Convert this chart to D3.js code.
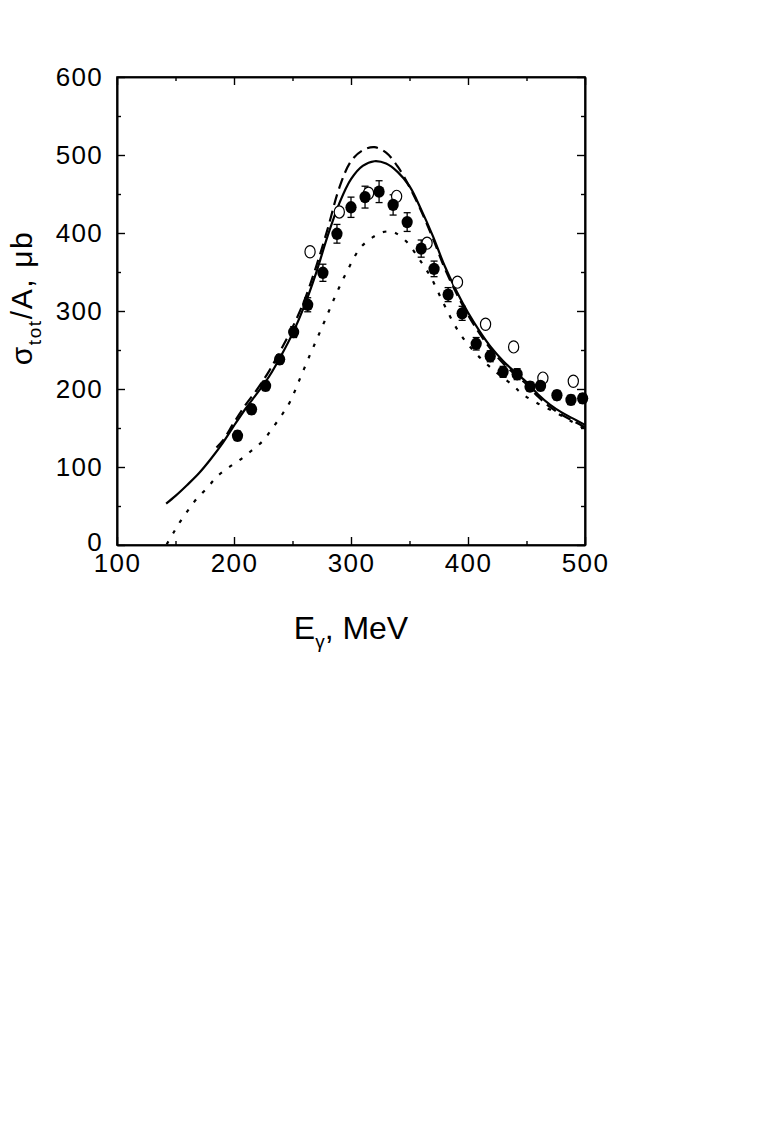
<!DOCTYPE html>
<html>
<head>
<meta charset="utf-8">
<script src="https://cdn.jsdelivr.net/npm/d3@7"></script>
<style>
    body { margin: 0; background: #fff; }
    svg { display: block; }
    text { font-family: "Liberation Sans", Arial, Helvetica, sans-serif; fill: #000; }
    .domain { stroke-width: 1.6; }
    .tick line { stroke-width: 1.4; }
</style>
</head>
<body>
<script>
// measured points, filled circles: [E, sigma, error]
var filledPts = [
    [203, 140, 6], [215, 174, 6], [227, 204, 6], [239, 238, 6], [251, 273, 7],
    [263, 308, 9], [276, 349, 11], [288, 399, 12], [300, 433, 13], [312, 446, 14],
    [324, 453, 14], [336, 436, 13], [348, 414, 12], [360, 380, 11], [371, 354, 10],
    [383, 321, 9], [395, 297, 9], [407, 258, 8], [419, 242, 7], [430, 222, 7],
    [442, 219, 7], [453, 203, 6], [462, 204, 6], [476, 192, 6], [488, 186, 6],
    [498, 188, 6]
];

// open circles: [E, sigma]
var openPts = [
    [265, 376], [290, 427], [315, 451], [339, 447], [365, 387],
    [391, 337], [415, 283], [439, 254], [464, 214], [490, 210]
];

// calculations
var solidCurve = [
    [142, 53], [150, 63], [160, 77], [170, 92], [180, 110], [190, 130], [200, 153],
    [210, 175], [220, 195], [230, 216], [240, 242], [250, 271], [260, 306], [270, 348],
    [280, 396], [290, 438], [300, 469], [310, 486], [320, 492], [330, 489], [340, 478],
    [350, 460], [360, 430], [370, 396], [380, 358], [390, 326], [400, 298], [410, 274],
    [420, 253], [430, 236], [440, 222], [450, 209], [460, 193], [470, 180], [480, 170],
    [490, 162], [500, 154]
];

var dashedCurve = [
    [185, 125], [190, 133], [200, 157], [210, 180], [220, 200], [230, 223], [240, 250],
    [250, 279], [260, 313], [270, 356], [280, 405], [290, 458], [300, 492], [310, 506],
    [320, 510], [330, 503], [340, 485], [350, 459], [360, 428], [370, 393], [380, 355],
    [390, 323], [400, 295], [410, 271], [420, 250], [430, 233], [440, 219], [450, 206],
    [460, 190], [470, 177], [480, 167], [490, 159], [500, 151]
];

var dottedCurve = [
    [142.5, 1], [148, 15], [154, 30], [161, 45], [168, 59], [177, 73], [185, 87],
    [195, 99], [205, 109], [215, 121], [225, 134], [233, 150], [241, 167], [248, 184],
    [256, 212], [265, 244], [272, 268], [280, 296], [288, 324], [297, 352], [308, 381],
    [319, 395], [327, 401], [333, 402], [338, 400], [348, 388], [359, 365], [368, 344],
    [379, 310], [391, 276], [404, 250], [419, 228], [438, 205], [447, 193], [459, 182],
    [476, 169], [489, 158], [500, 149]
];

var xMajor = [100, 200, 300, 400, 500];
var xMinor = [150, 250, 350, 450];
var yMajor = [0, 100, 200, 300, 400, 500, 600];
var yMinor = [50, 150, 250, 350, 450, 550];

var margin = {left: 117, top: 77},
    width = 468,
    height = 468;

var svg = d3.select("body").append("svg")
    .attr("width", 781)
    .attr("height", 1124);

var g = svg.append("g")
    .attr("transform", "translate(" + margin.left + "," + margin.top + ")");

var x = d3.scaleLinear().domain([100, 500]).range([0, width]);
var y = d3.scaleLinear().domain([0, 600]).range([height, 0]);

function drawAxis(axis, tx, ty) {
    var a = g.append("g")
        .attr("transform", "translate(" + tx + "," + ty + ")")
        .call(axis);
    a.selectAll("text")
        .style("font-size", "26px")
        .style("letter-spacing", "1.3px");
    return a;
}

// major ticks with labels, ticks pointing inward
drawAxis(d3.axisBottom(x).tickValues(xMajor).tickSizeInner(-8).tickSizeOuter(0).tickPadding(9), 0, height);
var yAx = drawAxis(d3.axisLeft(y).tickValues(yMajor).tickSizeInner(-8).tickSizeOuter(0).tickPadding(14), 0, 0);
// keep the "0" clear of the "100" below it
yAx.selectAll("text").filter(function(d){ return d === 0; }).attr("dy", "0.2em");
// mirrored ticks, no labels
drawAxis(d3.axisTop(x).tickValues(xMajor).tickSizeInner(-8).tickSizeOuter(0).tickFormat(""), 0, 0);
drawAxis(d3.axisRight(y).tickValues(yMajor).tickSizeInner(-8).tickSizeOuter(0).tickFormat(""), width, 0);

// minor ticks
drawAxis(d3.axisBottom(x).tickValues(xMinor).tickSizeInner(-4).tickSizeOuter(0).tickFormat(""), 0, height);
drawAxis(d3.axisTop(x).tickValues(xMinor).tickSizeInner(-4).tickSizeOuter(0).tickFormat(""), 0, 0);
drawAxis(d3.axisLeft(y).tickValues(yMinor).tickSizeInner(-4).tickSizeOuter(0).tickFormat(""), 0, 0);
drawAxis(d3.axisRight(y).tickValues(yMinor).tickSizeInner(-4).tickSizeOuter(0).tickFormat(""), width, 0);

// curves
var line = d3.line()
    .curve(d3.curveCatmullRom.alpha(0.5))
    .x(function(d){ return x(d[0]); })
    .y(function(d){ return y(d[1]); });

var plot = g.append("g");

plot.append("path")
    .datum(dottedCurve)
    .attr("d", line)
    .attr("fill", "none")
    .attr("stroke", "#000")
    .attr("stroke-width", 2.2)
    .attr("stroke-dasharray", "3.5,9");

plot.append("path")
    .datum(dashedCurve)
    .attr("d", line)
    .attr("fill", "none")
    .attr("stroke", "#000")
    .attr("stroke-width", 2.2)
    .attr("stroke-dasharray", "11,6");

plot.append("path")
    .datum(solidCurve)
    .attr("d", line)
    .attr("fill", "none")
    .attr("stroke", "#000")
    .attr("stroke-width", 2.2);

// error bars
var bars = plot.selectAll(".err")
    .data(filledPts)
    .enter()
    .append("g")
    .classed("err", true)
    .attr("stroke", "#000")
    .attr("stroke-width", 1.3);

bars.append("line")
    .attr("x1", function(d){ return x(d[0]); })
    .attr("x2", function(d){ return x(d[0]); })
    .attr("y1", function(d){ return y(d[1] - d[2]); })
    .attr("y2", function(d){ return y(d[1] + d[2]); });

[-1, 1].forEach(function(s) {
    bars.append("line")
        .attr("x1", function(d){ return x(d[0]) - 3.5; })
        .attr("x2", function(d){ return x(d[0]) + 3.5; })
        .attr("y1", function(d){ return y(d[1] + s * d[2]); })
        .attr("y2", function(d){ return y(d[1] + s * d[2]); });
});

// open circles
plot.selectAll(".open")
    .data(openPts)
    .enter()
    .append("ellipse")
    .classed("open", true)
    .attr("cx", function(d){ return x(d[0]); })
    .attr("cy", function(d){ return y(d[1]); })
    .attr("rx", 5.1)
    .attr("ry", 6.1)
    .attr("fill", "#fff")
    .attr("stroke", "#000")
    .attr("stroke-width", 1.2);

// filled circles
plot.selectAll(".filled")
    .data(filledPts)
    .enter()
    .append("ellipse")
    .classed("filled", true)
    .attr("cx", function(d){ return x(d[0]); })
    .attr("cy", function(d){ return y(d[1]); })
    .attr("rx", 5.6)
    .attr("ry", 6.2)
    .attr("fill", "#000");

// frame
g.append("rect")
    .attr("width", width)
    .attr("height", height)
    .attr("fill", "none")
    .attr("stroke", "#000")
    .attr("stroke-width", 1.6);

// axis titles
var xt = svg.append("text")
    .attr("x", margin.left + width / 2)
    .attr("y", 639)
    .attr("text-anchor", "middle")
    .style("font-size", "32px");
xt.append("tspan").text("E");
xt.append("tspan").attr("dy", 9).style("font-size", "19px").text("γ");
xt.append("tspan").attr("dy", -9).text(", MeV");

var yt = svg.append("text")
    .attr("transform", "translate(32,298) rotate(-90)")
    .attr("text-anchor", "middle")
    .style("font-size", "30px")
    .style("letter-spacing", "1.6px");
yt.append("tspan").text("σ");
yt.append("tspan").attr("dy", 9).style("font-size", "19px").text("tot");
yt.append("tspan").attr("dy", -9).text("/A, μb");
</script>
</body>
</html>
